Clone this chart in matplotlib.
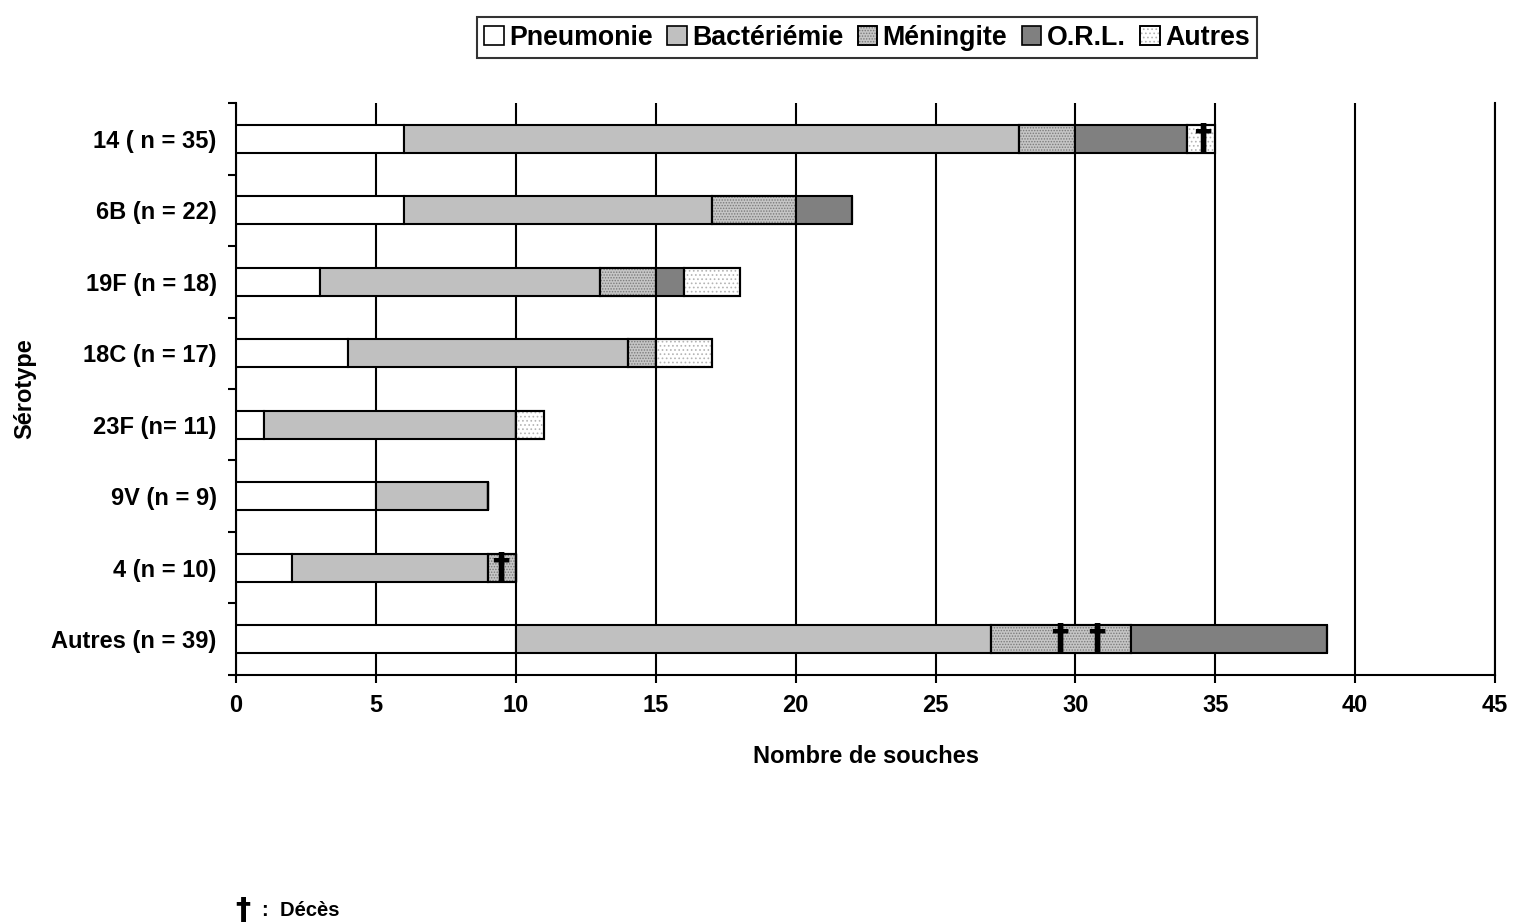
import matplotlib.pyplot as plt
from matplotlib.patches import Patch
import numpy as np

plt.rcParams['font.family'] = ['Liberation Sans', 'DejaVu Sans']
plt.rcParams['font.weight'] = 'bold'
plt.rcParams['hatch.linewidth'] = 0.7

serotypes = ['14 ( n = 35)', '6B (n = 22)', '19F (n = 18)', '18C (n = 17)',
             '23F (n= 11)', '9V (n = 9)', '4 (n = 10)', 'Autres (n = 39)']
categories = ['Pneumonie', 'Bactériémie', 'Méningite', 'O.R.L.', 'Autres']
pneumonie = [6, 6, 3, 4, 1, 5, 2, 10]
bacteriemie = [22, 11, 10, 10, 9, 4, 7, 17]
meningite = [2, 3, 2, 1, 0, 0, 1, 5]
orl = [4, 2, 1, 0, 0, 0, 0, 7]
autres = [1, 0, 2, 2, 1, 0, 0, 0]
series = [pneumonie, bacteriemie, meningite, orl, autres]

# deaths marked with a dagger: (row, x position)
deces_rows = [0, 6, 7, 7]
deces_x = [34.55, 9.45, 29.45, 30.75]

faces = ['white', '#c0c0c0', '#c6c6c6', '#808080', 'white']
hatches = [None, None, '......', None, '....']
hatch_cols = [None, None, '#7a7a7a', None, '#b4b4b4']

fig = plt.figure(figsize=(15.14, 9.24), dpi=100)
ax = fig.add_axes([0.1559, 0.2695, 0.9875 - 0.1559, 0.8885 - 0.2695])

y = np.arange(len(serotypes))
left = np.zeros(len(serotypes))
handles = []
for i, vals in enumerate(series):
    vals = np.array(vals, dtype=float)
    ax.barh(y, vals, left=left, height=0.39, color=faces[i],
            edgecolor='black', linewidth=1.5, zorder=3)
    h = [Patch(facecolor=faces[i], edgecolor='black', linewidth=1.2)]
    if hatches[i]:
        ax.barh(y, vals, left=left, height=0.39, facecolor='none',
                edgecolor=hatch_cols[i], linewidth=0, hatch=hatches[i], zorder=3)
        h.append(Patch(facecolor='none', edgecolor=hatch_cols[i], linewidth=0,
                       hatch=hatches[i]))
        h.append(Patch(fill=False, edgecolor='black', linewidth=1.2))
        # outline again on top of the dots
        ax.barh(y, vals, left=left, height=0.39, fill=False,
                edgecolor='black', linewidth=1.5, zorder=3)
    handles.append(tuple(h))
    left += vals

for r, x in zip(deces_rows, deces_x):
    ax.text(x, r, '†', ha='center', va='center', fontsize=25,
            fontweight='bold', family='DejaVu Sans', zorder=5)

ax.set_xlim(0, 45)
ax.set_ylim(7.5, -0.5)
ax.set_xticks(np.arange(0, 46, 5))
ax.set_yticks(y)
ax.set_yticklabels(serotypes)
ax.set_yticks(np.arange(-0.5, 8, 1), minor=True)
ax.tick_params(axis='y', which='major', length=0, pad=14, labelsize=17)
ax.tick_params(axis='y', which='minor', length=6, width=1.5, direction='out')
ax.tick_params(axis='x', length=6, width=1.5, direction='out', pad=8, labelsize=17)
ax.xaxis.grid(True, color='black', linewidth=1.5)
ax.set_axisbelow(True)
for s in ['left', 'bottom', 'right']:
    ax.spines[s].set_linewidth(1.5)
ax.spines['top'].set_visible(False)

ax.set_xlabel('Nombre de souches', fontsize=17, fontweight='bold', labelpad=20)
ax.set_ylabel('Sérotype', fontsize=17, fontweight='bold', labelpad=11)

leg = fig.legend(handles, categories, loc='center', bbox_to_anchor=(0.5727, 0.9594),
                 ncol=5, frameon=True, fancybox=False,
                 edgecolor='black', handlelength=0.72, handleheight=0.72,
                 handletextpad=0.2, columnspacing=0.55, borderpad=0.28,
                 borderaxespad=0, prop={'weight': 'bold', 'size': 19.3})
leg.get_frame().set_linewidth(1.5)

fig.text(243 / 1514, 1 - 910 / 924, '†', ha='center', va='center',
         fontsize=22, fontweight='bold', family='DejaVu Sans')
fig.text(262 / 1514, 1 - 910 / 924, ':  Décès', ha='left', va='center',
         fontsize=14.5, fontweight='bold')

fig.savefig('out.png', dpi=100)
